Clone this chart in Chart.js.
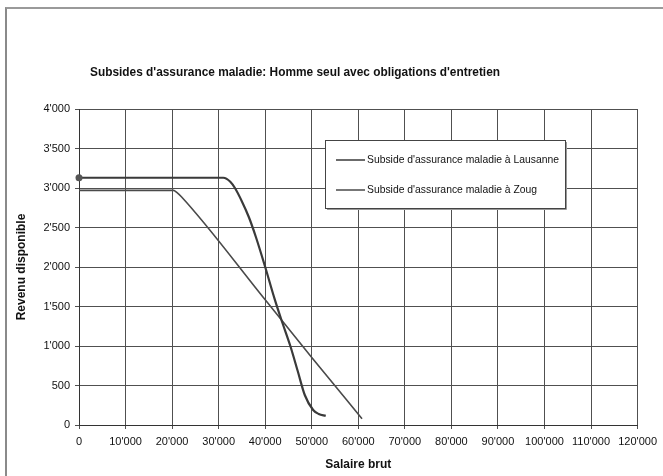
<!DOCTYPE html>
<html lang="fr">
<head>
<meta charset="UTF-8">
<title>Subsides d'assurance maladie</title>
<script src="https://cdn.jsdelivr.net/npm/chart.js"></script>
<style>
    body {
        margin: 0;
        padding: 0;
        background: #fff;
    }
    .wrap {
        position: relative;
        width: 663px;
        height: 476px;
    }
    .frame {
        position: absolute;
        left: 5px;
        top: 7px;
        right: 0;
        bottom: 0;
        border-top: 2px solid #9a9a9a;
        border-left: 2px solid #8a8a8a;
        pointer-events: none;
    }
</style>
</head>
<body>
<div class="wrap">
    <canvas id="chart" width="663" height="476"></canvas>
    <div class="frame"></div>
</div>
<script>
    // values
    const chartTitle = "Subsides d'assurance maladie: Homme seul avec obligations d'entretien";
    const seriesNames = ["Subside d'assurance maladie à Lausanne", "Subside d'assurance maladie à Zoug"];

    const lausanneSalary = [0, 31000, 32500, 33500, 35000, 36500, 38000, 40000, 42000, 43600, 45400, 47000, 48500, 50300, 51500, 53000];
    const lausanneIncome = [3130, 3130, 3080, 3000, 2830, 2630, 2380, 2000, 1600, 1310, 1000, 680, 380, 190, 140, 115];

    const zougSalary = [0, 20300, 21000, 22000, 40000, 50000, 60800];
    const zougIncome = [2970, 2970, 2945, 2890, 1585, 855, 80];

    const xMax = 120000, xStep = 10000;
    const yMax = 4000, yStep = 500;

    function fmt(v) {
        return String(v).replace(/\B(?=(\d{3})+(?!\d))/g, "'");
    }

    function toPoints(xs, ys) {
        return xs.map((x, i) => ({ x: x, y: ys[i] }));
    }

    const font = "'Liberation Sans', Arial, sans-serif";

    // draw text squeezed horizontally (the original uses a condensed face)
    function squeezed(c, text, x, y, k) {
        c.save();
        c.translate(x, y);
        c.scale(k, 1);
        c.fillText(text, 0, 0);
        c.restore();
    }

    // title + boxed legend inside the plot, like the Excel original
    const decor = {
        id: 'decor',
        afterDraw(chart) {
            const c = chart.ctx;
            c.save();
            c.fillStyle = '#111';
            c.font = 'bold 13px ' + font;
            c.textBaseline = 'middle';
            squeezed(c, chartTitle, 90, 72, 410 / c.measureText(chartTitle).width);

            const bx = 325, by = 140, bw = 240, bh = 68;
            c.fillStyle = '#fff';
            c.fillRect(bx, by, bw, bh);
            c.strokeStyle = '#444';
            c.lineWidth = 1;
            c.strokeRect(bx + 0.5, by + 0.5, bw, bh);
            c.strokeStyle = '#999';
            c.beginPath();
            c.moveTo(bx + 2, by + bh + 1.5);
            c.lineTo(bx + bw + 1.5, by + bh + 1.5);
            c.lineTo(bx + bw + 1.5, by + 2);
            c.stroke();

            c.font = '11px ' + font;
            const k = 192 / c.measureText(seriesNames[0]).width;
            chart.data.datasets.forEach((ds, i) => {
                const ly = by + 20 + i * 30;
                c.strokeStyle = ds.borderColor;
                c.lineWidth = 1.5;
                c.beginPath();
                c.moveTo(bx + 11, ly);
                c.lineTo(bx + 40, ly);
                c.stroke();
                c.fillStyle = '#111';
                squeezed(c, ds.label, bx + 42, ly, k);
            });
            c.restore();
        }
    };

    const ctx = document.getElementById('chart').getContext('2d');
    new Chart(ctx, {
        type: 'scatter',
        data: {
            datasets: [{
                label: seriesNames[0],
                data: toPoints(lausanneSalary, lausanneIncome),
                showLine: true,
                borderColor: '#3a3a3a',
                backgroundColor: '#555',
                borderWidth: 2.2,
                pointRadius: c => c.dataIndex === 0 ? 3.5 : 0,
                pointBorderWidth: 0,
                cubicInterpolationMode: 'monotone',
                clip: false,
            }, {
                label: seriesNames[1],
                data: toPoints(zougSalary, zougIncome),
                showLine: true,
                borderColor: '#4a4a4a',
                borderWidth: 1.6,
                pointRadius: 0,
                cubicInterpolationMode: 'monotone',
            }]
        },
        options: {
            responsive: false,
            animation: false,
            layout: {
                padding: { left: 10, top: 109, right: 21, bottom: 0 }
            },
            plugins: {
                legend: { display: false },
                tooltip: { enabled: false }
            },
            scales: {
                x: {
                    type: 'linear',
                    min: 0,
                    max: xMax,
                    ticks: {
                        stepSize: xStep,
                        padding: 6,
                        color: '#111',
                        font: { family: font, size: 11 },
                        maxRotation: 0,
                        callback: v => fmt(v)
                    },
                    grid: { color: '#505050', lineWidth: 1, tickLength: 4 },
                    border: { color: '#333' },
                    title: {
                        display: true,
                        text: 'Salaire brut',
                        color: '#111',
                        font: { family: font, size: 12, weight: 'bold' },
                        padding: { top: 4, bottom: 4 }
                    },
                    afterFit: s => { s.height = 51; }
                },
                y: {
                    min: 0,
                    max: yMax,
                    ticks: {
                        stepSize: yStep,
                        padding: 5,
                        color: '#111',
                        font: { family: font, size: 11 },
                        callback: v => fmt(v)
                    },
                    grid: { color: '#505050', lineWidth: 1, tickLength: 4 },
                    border: { color: '#333' },
                    title: {
                        display: true,
                        text: 'Revenu disponible',
                        color: '#111',
                        font: { family: font, size: 12, weight: 'bold' },
                        padding: { top: 4, bottom: 4 }
                    },
                    afterFit: s => { s.width = 69; }
                }
            }
        },
        plugins: [decor]
    });
</script>
</body>
</html>
